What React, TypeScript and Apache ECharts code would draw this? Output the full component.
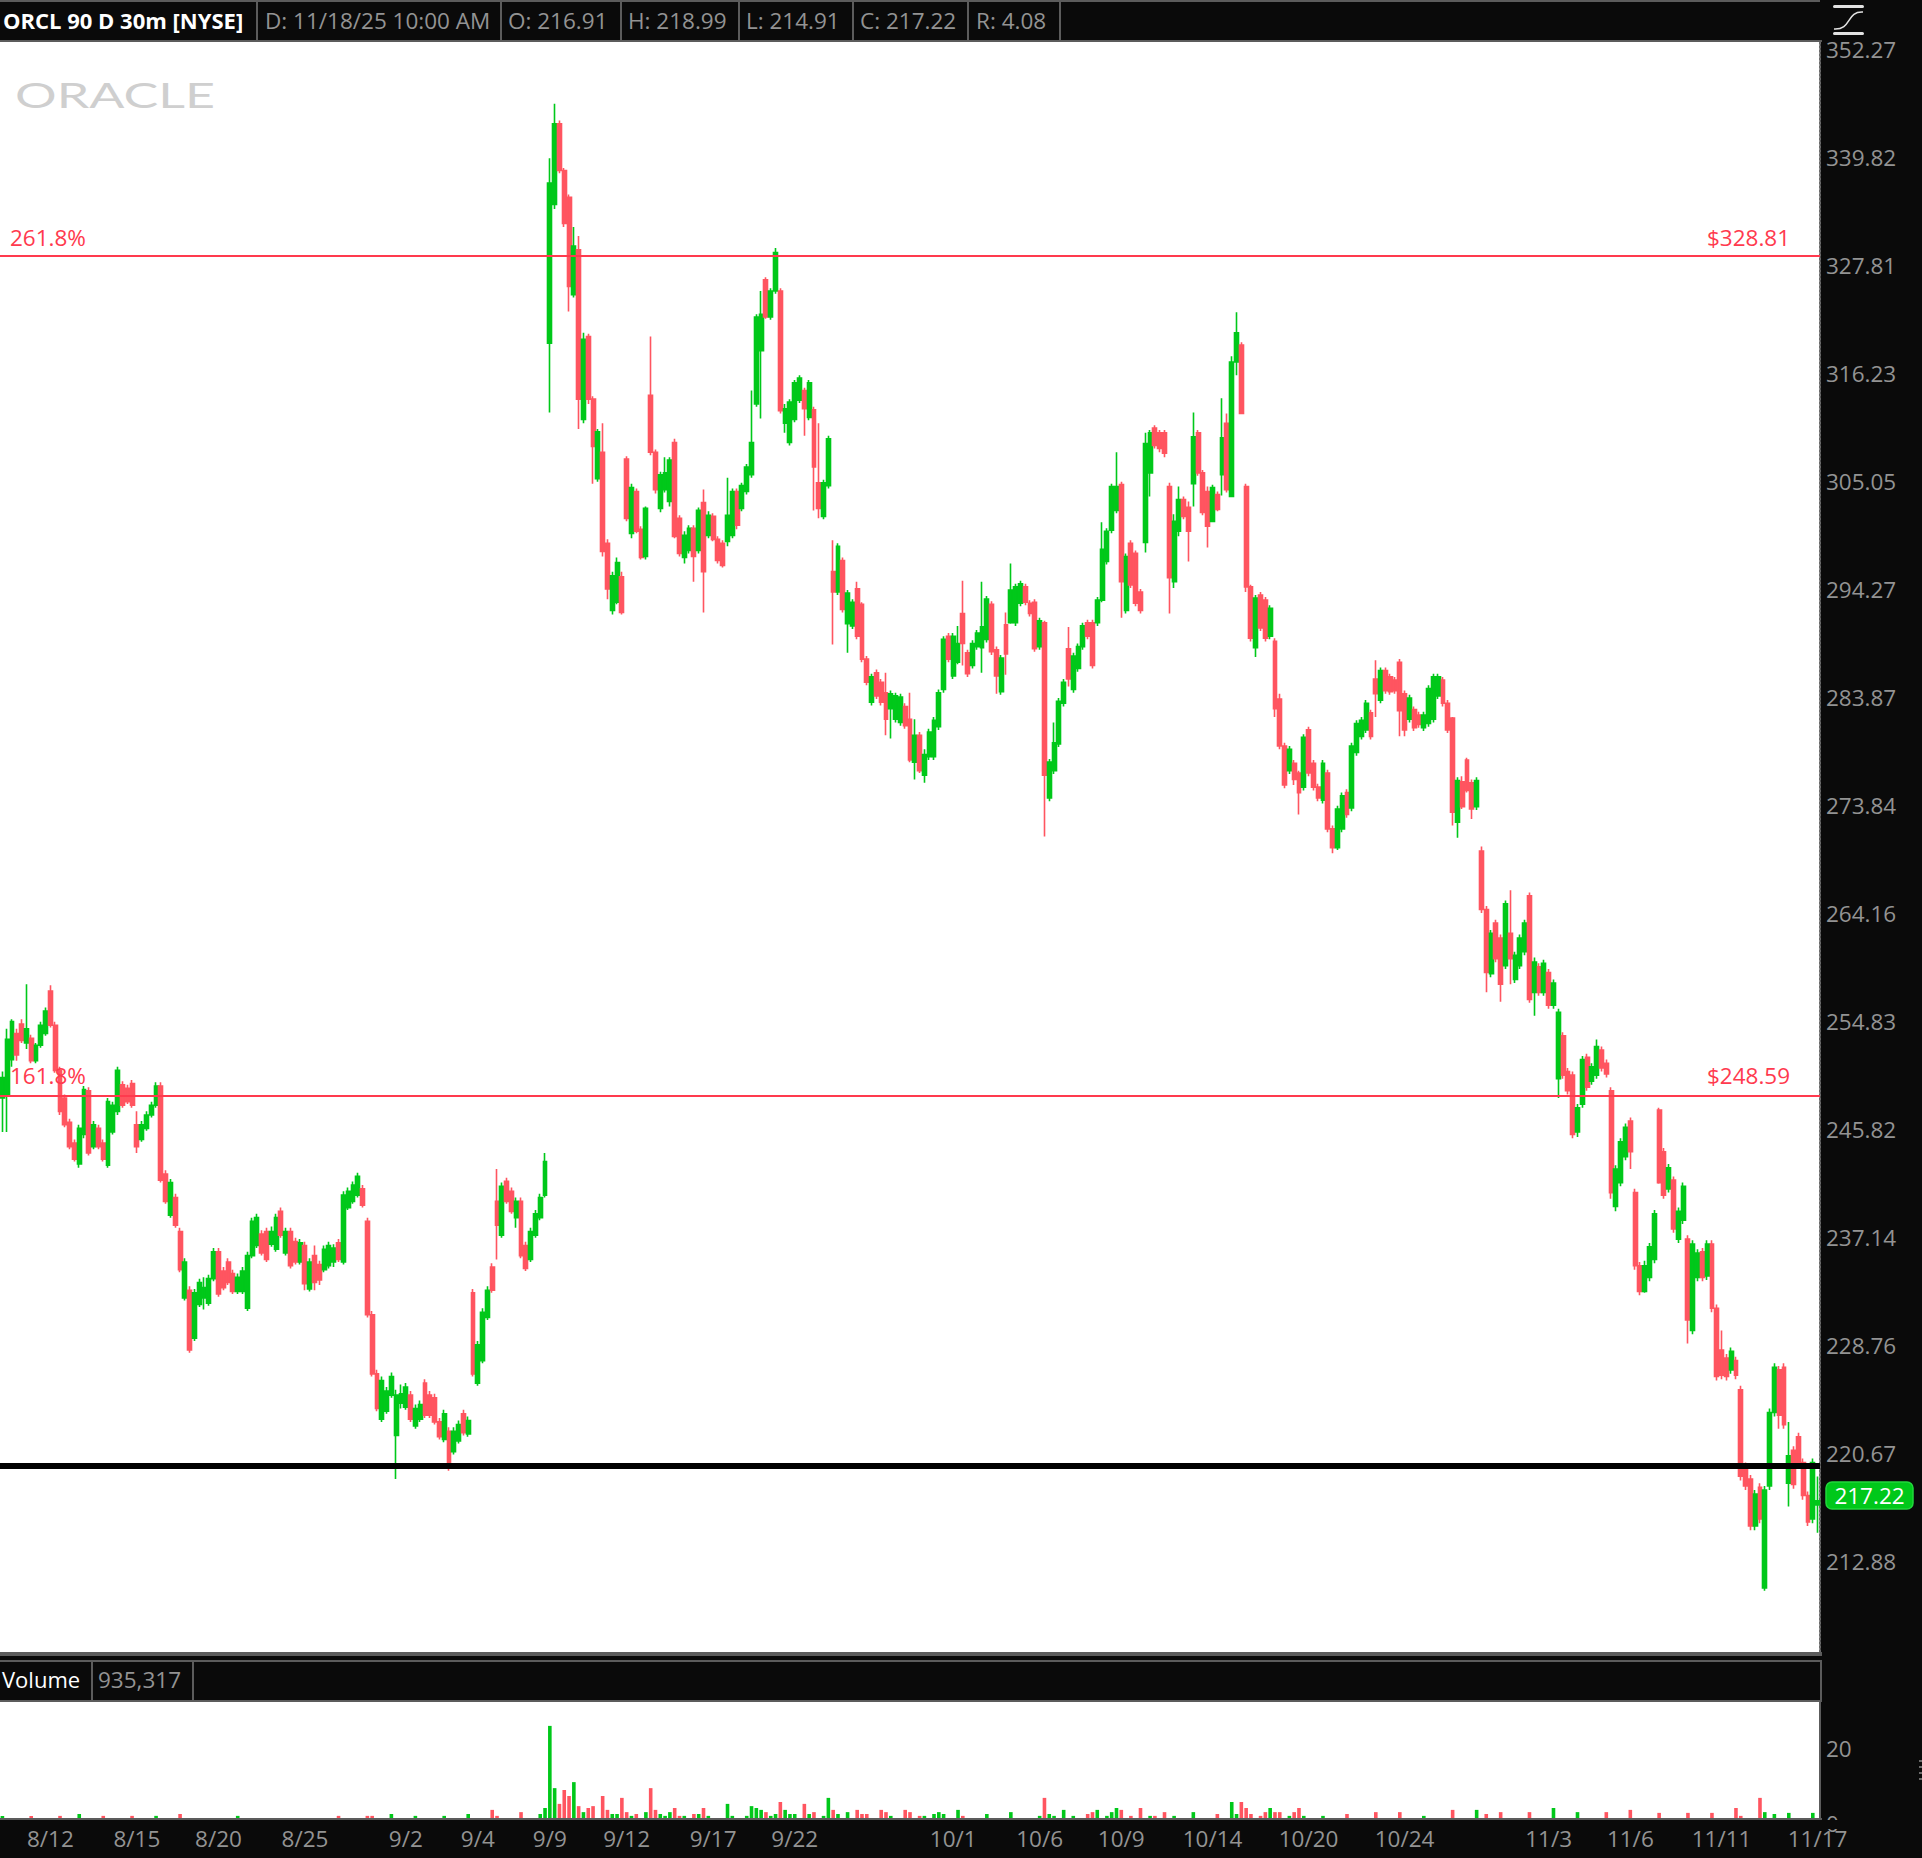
import React, { useEffect, useRef } from "react";
import * as echarts from "echarts";

// [open, close, low, high]
const sessionA = [
[248.4,250.1,245.6,250.6],[248.7,253.3,245.6,254.2],[251.6,254.8,251,255],[253.8,252,251.5,254.2],[254.6,253.2,253,255],[253,254.2,252.5,258],[253.4,251.5,251.3,253.7],[251.5,252.8,251.3,253],[252.8,254.5,252.6,254.8],
[253.8,255.7,253.6,256],[257.4,254.5,254.3,257.9],[254.5,250.7,250.5,254.8],[250.7,247.3,247,251],[248.4,246.2,246,248.7],[246.4,244.4,244.2,246.7],[244.7,243.4,243.2,245],[243,245.9,242.7,246.2],[245.4,249.1,245.1,249.4],[249,243.9,243.7,249.3],
[244.4,246.2,244.2,246.5],[245.9,244.4,244.2,246.2],[244.7,243.4,243.2,245],[242.9,248.1,242.7,248.4],[245.6,247.8,245.4,248.1],[247.3,250.7,247,251],[249.5,247.8,247.6,249.8],[249.2,248.1,247.9,249.5],[249.6,247.8,247.6,249.9],[246.2,244.4,243.9,247.3],
[245,246.2,244.8,246.5],[245.9,247,245.7,247.3],[247,247.8,246.8,248.1],[247.8,249.4,247.6,249.7],[249.4,241.7,241.5,249.7],[242.2,240,239.8,242.5],[238.9,241.5,238.7,241.8],[240.3,238.1,237.9,240.6],[237.6,234.6,234.4,237.9],
[232.4,235.2,232.2,235.5],[233,228.4,228.2,233.3],[229.3,232.8,229.1,233.1],[231.9,233.6,231.7,233.9],[232.4,233.2,231.5,234],[232,233.9,231.8,234.2],[233.9,236,233.7,236.3],[236,232.7,232.5,236.3],[234.5,233.2,233,234.8],[235.2,233.6,233.4,235.5],
[234.3,232.9,232.7,234.6],[232.9,234,232.7,234.3],[232.9,234.5,232.7,234.8],[231.6,235.7,231.4,236],[235.7,238.4,235.5,238.7],[236.5,238.7,236.3,239],[237.4,235.9,235.7,237.7],[237.6,235.4,235.2,237.9],[236.6,237.6,236.4,238],[236.2,238.7,236,239],[239.2,237.3,237.1,239.5],
[235.9,237.6,235.7,237.9],[237.6,234.9,234.7,237.9],[236.8,235.2,235,237.1],[235.2,236.7,235,237],[236.5,233.5,233,236.8],[233.1,235.2,232.9,235.5],[235.7,233.6,233,236.5],[235,233.8,233.4,235.3],[234.6,236.2,234.4,236.5],[234.9,236.5,234.7,236.8],[235.2,236.3,234.8,236.6],[236.7,235.4,235.2,237],
[235.2,240.5,235,240.8],[239.5,240.8,239.3,241.1],[240,241.3,239.8,241.6],[240.5,242,240.3,242.3],[241,239.7,239.5,241.3],[238.4,231.1,230.9,238.7],[231.1,226.6,226.4,231.4],[226.6,224,223.8,226.9],[223.2,226.1,223,226.4],[223.8,225.3,223.6,225.6],[225,226.4,224.8,226.7],
[222,225,218.8,225.4],[224.4,225.1,224,225.8],[224.1,225.6,223.9,225.9],[225,223.2,223,225.3],[222.7,224,222.5,224.3],[223.2,224.3,223,224.6],[225.9,223.5,223.3,226.2],[225,223.5,223.3,225.3],[224.8,223,222.8,225.1],[223,221.9,221.7,223.3],
[221.7,223.6,221.5,223.9],[222.3,220,219.4,222.6],[220.8,222.3,220.6,222.6],[221.6,222.8,221.4,223.1],[223.6,222.2,222,223.9],[222.1,223.1,221.9,223.4],[232.8,226.6,226.4,233.1],[225.9,228.8,225.7,229.1],[227.6,231.3,227.4,231.6],
[230.9,233,230.7,233.3],[234.8,233,232.8,235.1],[240,238.1,235.4,242.6],[237.3,241.2,237.1,241.5],[241.6,240,239.8,241.9],[240.8,239.2,239,241.1],[238.7,240,237.9,240.3],[240,235.7,235.5,240.3],[236.5,234.7,234.5,236.8],
[235.4,237.6,235.2,237.9],[237.3,239,237.1,239.3],[238.7,240.3,238.5,240.6],[240.5,243.2,240.3,243.9],
];
const sessionB = [
[319.4,336.9,312.1,339.7],[334.5,343.6,334,345.9],[343.6,338.3,338,344],[338.3,332.4,332,338.6],[335.3,325.5,322.8,335.6],[324.6,329.9,324.3,332],[329.5,313.5,310.4,331],[311.4,319.8,311,320.5],[320.1,313.5,313,320.4],[313.5,308.6,304.8,313.8],
[305.3,310.1,305,310.4],[308,298,297.5,311],[298.8,294.3,293.3,299.2],[292.2,295.6,291.8,296],[293,296.9,292.8,297.4],[295.5,292,291.8,296],[307.3,301.3,301,307.6],[299.8,304.4,299.3,304.8],[304,300,299.8,304.3],
[300.2,297.4,297.2,300.5],[297.5,302.3,297.2,302.5],[313.9,308,307.7,320.1],[308,304.2,303.8,308.3],[302.3,305.7,301.9,306],[304.2,305.9,303.9,307.5],[303,307.2,302.5,307.5],[309,299.5,299.3,309.4],[301.3,297.8,297.5,301.6],[297.4,299.6,296.8,300],
[298.1,300.3,297.8,300.6],[300.3,297.5,295,300.6],[298.1,302.1,297.8,302.4],[302.9,296,292,304.2],[299.6,301.6,299.3,302],[301.5,299.2,299,301.8],[299.2,297.1,296.8,299.5],[298.8,296.6,296.4,299.1],[299,301.6,298.5,305.4],[299.6,304,299.3,304.3],
[304,300.6,300.2,304.3],[302.3,304.6,302,304.9],[304,306.5,303.7,306.8],[305.7,309,305.4,314.4],[313,322.2,312.7,322.5],[318.6,322.5,311.5,325],[326.2,322.2,322,326.5],[322.2,325,321.9,325.3],[325,329.2,324.7,329.7],[325,312.3,312,325.3],
[311,312.5,310,313],[309,313.2,308.7,313.5],[311.4,315.2,311.1,315.5],[313.4,315.7,313.1,316],[314.4,312.5,309.7,314.7],[311.6,315.2,311.3,315.5],[312.4,306.5,302.1,312.7],[304.9,302.3,301.3,311],[301.5,304.9,301.2,305.2],[304.6,309.4,304.3,309.7],
];
const sessionC = [
[296,294,288.9,299.1],[294,298.5,293.7,298.8],[297.1,292.3,292,297.4],[290.9,293.9,288.1,294.2],[290.7,293,290.4,293.3],[294.3,289.7,289.4,295],[292.8,287.5,287.2,293],[287.5,285.3,285,287.8],[283.4,285.8,283.1,286.1],[286.2,284,283.7,286.5],
[285.3,283.4,283.1,285.6],[284.3,281.8,280.3,286.2],[282.8,284.2,280,284.5],[281.8,284,281.5,284.3],[281.5,283.9,281.2,284.2],[283,281.2,280.9,283.3],[281.8,278,277.8,284.3],[277.8,280.3,276.2,281.8],[280.3,277,276.8,280.6],[276.6,278.5,275.9,279],
[278.3,280.6,278,280.9],[278.3,281.7,278,282],[281.1,284.3,280.8,284.6],[284.6,289.4,284.3,289.7],[289.7,287.5,287.2,290],[285.9,289.7,285.6,290],[287.2,289,287,290.7],[291.9,289,286.9,295.1],[288.1,286.1,285.8,288.4],[286.9,289,286.6,289.3],
[288.7,290,288.4,290.3],[288.6,290.6,286.2,295],[289.4,293.3,289.1,293.6],[292.8,288.2,287.9,293.1],[288.4,285.9,284.2,288.7],[284.4,287.6,284.1,287.9],[290.8,288,286,292],[291,294.2,290.9,296.8],[291,294.5,290.7,294.8],[292.9,294.8,292.6,295.1],
[294.5,293,292.7,294.8],[292.9,291.9,291.6,293.2],[293,288.5,288.2,293.3],[288.7,291.2,288.4,291.5],[291,276.6,271,291.2],[274.5,277.8,274.2,278.1],[277,279.6,276.7,281.5],[279.5,283.5,279.2,283.8],[283.3,285.3,283,285.6],[288.5,285.6,284.9,290.6],
[284.6,287.8,284.3,288.1],[286.6,288.7,286.3,289],[288.7,290.7,288.4,291],[291,289.7,289.4,291.3],[291,286.9,286.6,291.3],[291,293.2,290.7,293.5],[293.2,298.2,293,300.9],[297,300,296.7,300.3],[300.1,304.5,299.8,304.8],[302.1,304.5,301.8,308],
[304.7,295,291.5,305],[292.2,297.5,291.9,297.8],[298.8,294.7,294.4,299.1],[297.8,292.9,292.6,298.1],[294,292.2,291.9,294.3],
];
const sessionD = [
[298.9,308.9,297.9,310],[305.9,310,303.5,310.3],[310.5,308.7,308.4,310.8],[310,308.4,308,310.3],[310,307.9,307.5,310.3],[304.5,295.4,291.9,304.9],[295,301,294.4,301.7],[300,303.2,299.5,304.5],[303.2,301.5,301.2,303.5],[302.4,300,297,303],
[304.8,309.6,302.5,312.1],[310,305.9,305.6,310.3],[305.9,301.9,301.6,306.2],[304,300.5,298.4,304.5],[301,304.4,300.9,304.7],[303.7,302.2,302,304],[305.7,309.5,303.6,313.6],[311,304.2,303.9,312],[303.5,317.4,303.5,318],[317.4,320.5,316,322.7],
[319.2,312,312,319.5],[304.5,294.5,294,304.8],[294.5,289.5,289.2,294.7],[288.6,293.4,287.7,293.7],[293.7,290.5,290.2,294],[293.2,289.5,289.2,293.5],[289.7,292.4,289.4,292.7],[289.2,282.8,282,289.5],[283.7,279.3,279,284.2],[279.3,275.7,275.4,279.6],
[277,279,276.7,279.3],[277.7,276.2,275.7,278],[276.8,275,273,277],[275.5,280.1,275.2,280.4],[280.8,276.8,276.5,281.1],[277.7,275.5,275.2,278],[275.5,274.5,274.2,275.8],[274.3,277.7,274,278],[276.8,271.7,271.4,277.1],[271.7,270,269.5,272],
[270,273.5,269.8,273.8],[271.7,274.7,271.4,275],[275,273,272.7,275.3],[273.6,279.3,273.3,279.6],[278.7,281.4,278.4,281.7],[280.2,281.7,279.9,282],[280.8,283.3,280.5,283.6],[282.4,280.2,279.9,282.7],[285.6,284.2,282,287.4],[283.6,286.4,283.3,286.7],
[286.4,284.5,284.2,286.7],[285.8,284.4,284.1,286.1],[285.5,284.5,284.2,285.8],[287.2,282.6,280.2,287.5],[284.2,280.8,280.2,284.5],[281.8,283.8,281.5,284.1],[282.7,281,280.7,283],[282.2,281.3,281,282.5],[281,282.2,280.7,282.5],[281.4,284.7,281.1,285],
[281.8,285.8,281.5,286.1],[284,285.8,283.7,286.1],[285.5,283.3,283,285.8],[283.3,280.8,280.5,283.6],[281.9,273.2,272,282],[272.3,276.1,270.9,276.4],[276,273.7,273.5,276.5],[278,275.2,275,278.2],[275.9,273.5,272.6,276.2],[273.7,276.1,273.4,276.4],
[269.7,264.5,264.2,270.1],[264.5,259,257.3,264.8],[258.9,262.4,258.6,262.7],[263.3,260.2,259.9,263.6],[262,258,256.5,262.3],[259.6,265,259.3,265.3],[262.4,260.2,258,266.2],[258.4,260.5,258.1,260.8],[259.6,262,259.3,262.3],[260.8,263.3,260.5,263.6],
[265.7,256.7,256.4,266],[257.3,259.9,255.3,260.3],[259.5,257.3,257,259.8],[257.3,259.8,257,260.1],[259,256.2,255.9,259.3],[256.2,258.1,255.9,258.4],[250,255.6,248.4,255.9],[253.6,250.3,250,253.9],[250.6,249,248.7,250.9],[250.3,245.4,245.1,250.6],
[245.6,247.6,245.2,247.9],[247.9,251.6,247.6,251.9],[251.8,249.3,249,252.1],[249.8,251,249.5,251.3],[250.3,252.7,250,253.3],[252.4,250.9,250.6,252.7],[251.3,250.4,250.1,251.6],[249,240.7,240.2,249.3],[239.6,242.6,239.2,242.9],[241.5,244.8,241.2,245.1],
[243.6,246,243.3,246.3],[246.5,244,242.6,246.8],[240.7,234.9,234.6,241],[234.9,232.9,232.6,235.2],[232.9,234.9,232.8,235.3],[234,236.4,233.7,236.7],[235.4,239,235.1,239.3],[247.4,241.5,241.4,247.6],[244,240.5,240.2,244.3],[241,242.7,240.7,243],
[241.7,237.8,237.5,242],[237,239.2,236.7,239.5],[238.5,241.2,238.2,241.5],[237,230.7,228.9,237.3],[229.9,236.6,229.6,236.9],[234,235.9,233.7,236.2],[236,234,233.7,236.3],[234.1,236.6,233.8,236.9],[236.6,231.6,231.3,236.9],[231.6,226.4,226.1,231.9],
[228.4,226.5,226.2,229.9],[227.8,226.4,226.1,228.1],[226.9,228.3,226.6,228.6],[227.6,226.5,226.2,227.9],[225.4,219,218.7,225.7],[219.7,218.3,218,220],[218.8,215.4,215.1,219.1],[215.4,217.7,215.1,218],[218.2,215.9,215.6,218.5],[211,218,210.8,218.3],
[218.3,223.7,218,224],[223.7,227.1,223.4,227.4],[226.9,223.5,222.5,227.2],[227.1,222.8,222.5,227.4],[218.5,220.5,216.8,223],[220.9,218.4,218.1,221.2],[221.9,220,219.7,222.2],[220,217.6,217.3,220.3],[217.6,215.7,215.4,217.9],[215.9,220,215.6,220.3],
[216.91,217.22,214.91,218.99],
];
const candles = [...sessionA, ...sessionB, ...sessionC, ...sessionD];

// [bar number, volume in millions]; bars not listed stay below the visible part of the pane
const volumeBars = [
[0,1.9],[6,1.9],[12,1.9],[16,2.4],[21,1.9],[27,1.9],[32,1.9],[37,2.4],[49,1.9],[70,1.9],[76,1.9],[77,1.9],[81,2.4],[86,1.9],[92,1.9],[97,2.4],[102,3.5],[103,1.9],[108,2.9],
[112,2.4],[113,4],[114,25.9],[115,9.3],[116,5.1],[117,8.8],[118,7.2],[119,10.9],[120,4.5],[121,2.9],[122,4],[123,4.5],[125,7.2],[126,3.5],[127,2.4],[128,2.4],[129,6.7],[130,2.9],[131,1.9],[132,2.4],[134,2.9],
[135,9.3],[136,3.5],[137,2.4],[138,1.9],[139,2.9],[140,4],[141,1.9],[142,1.9],[144,2.4],[145,2.4],[146,4],[147,1.9],[151,5.1],[152,1.9],[155,1.9],[156,4.5],[157,4],[158,3.5],[159,2.9],[160,1.9],
[161,2.4],[162,5.6],[163,3.5],[164,2.4],[165,2.4],[167,5.1],[168,2.4],[169,2.9],[171,1.9],[172,6.7],[173,3.5],[174,2.4],[176,2.9],[178,3.5],[179,2.4],[180,2.4],[183,3.5],[184,2.9],[185,1.9],[188,3.5],
[189,2.9],[191,1.9],[192,1.9],[194,2.4],[195,2.9],[196,2.4],[199,3.5],[200,1.9],[205,2.4],[210,2.9],[216,1.9],[217,6.7],[218,2.4],[219,1.9],[221,3.5],[223,1.9],[226,2.4],[227,2.9],[228,3.5],[230,1.9],
[231,2.9],[232,4],[233,3.5],[235,1.9],[237,4],[239,1.9],[240,1.9],[242,2.9],[244,1.9],[248,2.9],[253,2.4],[256,5.6],[257,2.4],[258,5.6],[259,4],[260,2.4],[262,1.9],[263,2.9],[264,4],[265,2.9],
[266,2.9],[268,1.9],[269,2.9],[270,4],[271,1.9],[275,1.9],[280,2.4],[286,2.9],[291,2.9],[296,1.9],[302,3.5],[307,3.5],[309,2.4],[312,2.9],[318,2.9],[323,4],[328,2.9],[334,2.9],[339,3.5],[345,2.7],
[351,2.7],[356,2.7],[361,4],[362,1.9],[366,6.7],[367,2.9],[369,2.4],[372,2.7],[377,2.7],
];

const dateTicks = [[10,"8/12"],[28,"8/15"],[45,"8/20"],[63,"8/25"],[84,"9/2"],[99,"9/4"],[114,"9/9"],[130,"9/12"],[148,"9/17"],[165,"9/22"],[198,"10/1"],[216,"10/6"],[233,"10/9"],[252,"10/14"],[272,"10/20"],[292,"10/24"],[322,"11/3"],[339,"11/6"],[358,"11/11"],[378,"11/17"]] as [number,string][];
const priceTicks = [352.27,339.82,327.81,316.23,305.05,294.27,283.87,273.84,264.16,254.83,245.82,237.14,228.76,220.67,212.88];
const fibLevels = [{ pct: "261.8%", price: 328.81 }, { pct: "161.8%", price: 248.59 }];
const supportLevel = 219.79;
const headerCells = [["D: 11/18/25 10:00 AM",265],["O: 216.91",508],["H: 218.99",628],["L: 214.91",746],["C: 217.22",860],["R: 4.08",976]] as [string,number][];
const headerDividers = [256,500,620,738,852,967,1059];

const FONT = '"Open Sans","Noto Sans",sans-serif';
const FONT_SIZE = 22.5;
const GREEN = "#00c81a";
const RED = "#ff5560";
const LINE_RED = "#ff3a4e";
const DARK = "#0a0a0a";
const GREY = "#5c5c5c";
const LABEL = "#939393";

const categories = candles.map((_, i) => String(i));
const tickLookup = new Map(dateTicks.map(([i, t]) => [i, t]));
const volumeValues = candles.map(() => 0);
volumeBars.forEach(([i, v]) => { volumeValues[i] = v; });

function rect(x: number, y: number, w: number, h: number, fill: string, extra: any = {}) {
  return { type: "rect", z: 100, shape: { x, y, width: w, height: h, ...(extra.r ? { r: extra.r } : {}) }, style: { fill, ...(extra.stroke ? { stroke: extra.stroke, lineWidth: 1.5 } : {}) }, silent: true };
}
function label(text: string, x: number, y: number, fill: string, extra: any = {}) {
  return {
    type: "text", z: 101, x, y, silent: true,
    style: { text, fill, font: `${extra.weight || "normal"} ${extra.size || FONT_SIZE}px ${FONT}`, textAlign: extra.align || "left", textVerticalAlign: "middle" },
  };
}

export default function App() {
  const ref = useRef<HTMLDivElement>(null);
  useEffect(() => {
    document.body.style.margin = "0";
    const chart = echarts.init(ref.current!, undefined, { renderer: "svg" });
    const graphic: any[] = [
      rect(0, 0, 1820, 2, GREY),
      rect(0, 40, 1822, 2, GREY),
      ...headerDividers.map((x) => rect(x, 2, 2, 38, GREY)),
      label("ORCL 90 D 30m [NYSE]", 3, 20, "#ffffff", { weight: "bold", size: 22 }),
      ...headerCells.map(([t, x]) => label(t, x, 20, LABEL)),
      // ORACLE logo
      { type: "text", z: 101, x: 15, y: 95, scaleX: 1.53, silent: true, style: { text: "ORACLE", fill: "#cfcfcf", font: `400 34px "Lato",${FONT}`, textVerticalAlign: "middle" } },
      // Fibonacci labels
      label(fibLevels[0].pct, 10, 237, LINE_RED),
      label("$" + fibLevels[0].price.toFixed(2), 1707, 237, LINE_RED),
      label(fibLevels[1].pct, 10, 1075, LINE_RED),
      label("$" + fibLevels[1].price.toFixed(2), 1707, 1075, LINE_RED),
      // last price tag
      rect(1826, 1482, 87, 27, "#00c81a", { r: 6, stroke: "#22d63c" }),
      label("217.22", 1869.5, 1495, "#ffffff", { align: "center" }),
      // volume header
      rect(0, 1652, 1822, 4, GREY),
      rect(0, 1660, 1822, 2, GREY),
      rect(0, 1700, 1822, 2, GREY),
      rect(1820, 1660, 2, 42, GREY),
      rect(91, 1662, 2, 38, GREY),
      rect(192, 1662, 2, 38, GREY),
      label("Volume", 2, 1679, "#ffffff", { size: 22 }),
      label("935,317", 98, 1679, LABEL),
      // bottom band hides the foot of the volume pane
      rect(0, 1820, 1922, 9, DARK),
      rect(0, 1818, 1822, 2, GREY),
      // study icon
      rect(1833, 5, 31, 3, "#e2e2e2", { r: 1.5 }),
      rect(1833, 32, 31, 3, "#e2e2e2", { r: 1.5 }),
      { type: "bezierCurve", z: 101, silent: true, shape: { x1: 1834, y1: 29, x2: 1863, y2: 12, cpx1: 1852, cpy1: 30, cpx2: 1846, cpy2: 11 }, style: { stroke: "#e2e2e2", lineWidth: 1.5, fill: "none" } },
      // pane resize grip
      ...[1760, 1766, 1772, 1778].map((y) => rect(1919, y, 3, 2, "#6a6a6a")),
    ];
    chart.setOption({
      animation: false,
      backgroundColor: DARK,
      textStyle: { fontFamily: FONT },
      graphic,
      grid: [
        { left: 0, top: 42, width: 1820, height: 1610, show: true, backgroundColor: "#ffffff", borderWidth: 0, containLabel: false },
        { left: 0, top: 1702, width: 1820, height: 121, show: true, backgroundColor: "#ffffff", borderWidth: 0, containLabel: false },
      ],
      xAxis: [
        { type: "category", gridIndex: 0, data: categories, boundaryGap: true, axisLine: { show: false }, axisTick: { show: false }, axisLabel: { show: false }, splitLine: { show: false } },
        {
          type: "category", gridIndex: 1, data: categories, boundaryGap: true, axisLine: { show: false }, axisTick: { show: false }, splitLine: { show: false },
          axisLabel: {
            show: true, margin: 4, color: LABEL, fontSize: FONT_SIZE, fontFamily: FONT,
            interval: (i: number) => tickLookup.has(i),
            formatter: (_: string, i: number) => tickLookup.get(i) || "",
          },
        },
      ],
      yAxis: [
        {
          type: "log", logBase: 10, gridIndex: 0, position: "right", min: 206.55, max: 353.1, scale: true,
          axisLine: { show: true, lineStyle: { color: "#6a6a6a", type: "dotted", width: 2 } }, axisTick: { show: false }, splitLine: { show: false },
          axisLabel: { show: true, margin: 6, color: LABEL, fontSize: FONT_SIZE, fontFamily: FONT, customValues: priceTicks, formatter: (v: number) => v.toFixed(2), hideOverlap: false, showMinLabel: true, showMaxLabel: true },
        },
        {
          type: "value", gridIndex: 1, position: "right", min: 0, max: 32.27,
          axisLine: { show: true, lineStyle: { color: GREY, width: 2 } }, axisTick: { show: false }, splitLine: { show: false },
          axisLabel: { show: true, margin: 6, color: LABEL, fontSize: FONT_SIZE, fontFamily: FONT, customValues: [0, 20] },
        },
      ],
      series: [
        {
          type: "candlestick", xAxisIndex: 0, yAxisIndex: 0, data: candles, barWidth: 4.4,
          itemStyle: { color: GREEN, color0: RED, borderColor: GREEN, borderColor0: RED, borderWidth: 1.6 },
          markLine: {
            silent: true, symbol: "none", animation: false, label: { show: false },
            data: [
              ...fibLevels.map((l) => ({ yAxis: l.price, lineStyle: { color: LINE_RED, width: 2, type: "solid" } })),
              { yAxis: supportLevel, lineStyle: { color: "#000000", width: 6, type: "solid" } },
            ],
          },
        },
        {
          type: "bar", xAxisIndex: 1, yAxisIndex: 1, barWidth: 3.6,
          data: volumeValues,
          itemStyle: { color: (p: any) => (candles[p.dataIndex][1] >= candles[p.dataIndex][0] ? GREEN : RED) },
        },
      ],
    });
    return () => chart.dispose();
  }, []);
  return <div ref={ref} style={{ position: "absolute", left: 0, top: 0, width: 1922, height: 1858 }} />;
}
